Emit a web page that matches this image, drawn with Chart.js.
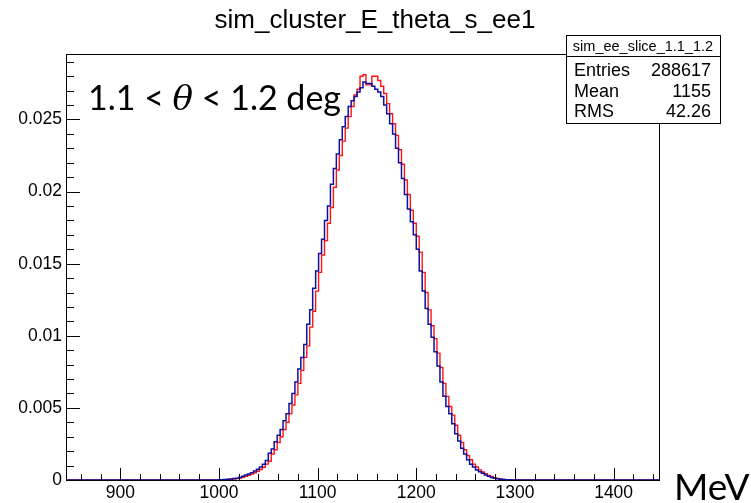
<!DOCTYPE html>
<html>
<head>
<meta charset="utf-8">
<script src="https://cdn.jsdelivr.net/npm/chart.js@4.4.0/dist/chart.umd.min.js"></script>
<style>
  html, body { margin: 0; padding: 0; background: #fff; }
  #wrap { width: 751px; height: 503px; }
</style>
</head>
<body>
<div id="wrap"><canvas id="histo" width="751" height="503"></canvas></div>
<script>
// histogram binning (MeV) and axis range
const binLow = 996;
const binWidth = 3;
const xMin = 845, xMax = 1446;
const yMax = 0.02954;

// bin contents, starting at binLow
const blueValues = [
  0, 0.00001, 0.00002, 0.00003, 0.00005, 0.00007, 0.0001, 0.00013, 0.00018, 0.00026,
  0.00034, 0.00042, 0.0005, 0.00062, 0.00074, 0.0009, 0.0011, 0.00135, 0.00185, 0.00215,
  0.00265, 0.0031, 0.0035, 0.0041, 0.0046, 0.0053, 0.006, 0.0068, 0.0077, 0.0085,
  0.0094, 0.0108, 0.0118, 0.0133, 0.0145, 0.0157, 0.0167, 0.018, 0.019, 0.0205,
  0.0216, 0.0226, 0.0236, 0.0245, 0.0252, 0.0259, 0.0263, 0.0266, 0.0269, 0.0272,
  0.0276, 0.0275, 0.0275, 0.0273, 0.0271, 0.0269, 0.0266, 0.026, 0.0254, 0.0247,
  0.024, 0.023, 0.022, 0.0209, 0.0198, 0.0188, 0.0179, 0.017, 0.016, 0.0145,
  0.0131, 0.0119, 0.0108, 0.0099, 0.0089, 0.0079, 0.0068, 0.0058, 0.0051, 0.0046,
  0.0039, 0.0032, 0.0027, 0.0022, 0.0018, 0.0014, 0.0011, 0.0009, 0.0007, 0.00058,
  0.00046, 0.00034, 0.00026, 0.00018, 0.00012, 0.00008, 0.00005, 0.00003, 0.00002, 0.00001,
  0
];
const redValues = [
  0, 0, 0.00001, 0.00002, 0.00003, 0.00005, 0.00007, 0.0001, 0.00013, 0.00018,
  0.00025, 0.00033, 0.00041, 0.0005, 0.00061, 0.00073, 0.00088, 0.0011, 0.0013, 0.0018,
  0.0021, 0.0026, 0.003, 0.0035, 0.004, 0.0046, 0.0052, 0.0059, 0.0067, 0.0076,
  0.0085, 0.0093, 0.0106, 0.0117, 0.0131, 0.0144, 0.0156, 0.0166, 0.0178, 0.0189,
  0.0203, 0.0215, 0.0225, 0.0235, 0.0244, 0.0252, 0.0259, 0.0267, 0.0271, 0.028,
  0.0281, 0.0274, 0.0274, 0.028, 0.028, 0.0277, 0.0273, 0.0268, 0.0261, 0.0254,
  0.0247, 0.0239, 0.0229, 0.0219, 0.0208, 0.0198, 0.0187, 0.0178, 0.0169, 0.0158,
  0.0144, 0.013, 0.0118, 0.0107, 0.0098, 0.0088, 0.0078, 0.0067, 0.0058, 0.0051,
  0.0045, 0.0038, 0.0031, 0.0026, 0.0021, 0.0017, 0.0014, 0.0011, 0.0009, 0.0007,
  0.00055, 0.00043, 0.00032, 0.00024, 0.00016, 0.0001, 0.00007, 0.00004, 0.00002, 0.00001,
  0
];

const xTickLabels = [900, 1000, 1100, 1200, 1300, 1400];
const yTickLabels = ['0', '0.005', '0.01', '0.015', '0.02', '0.025'];
const titleText = 'sim_cluster_E_theta_s_ee1';
const statsTitle = 'sim_ee_slice_1.1_1.2';
const statNames = ['Entries', 'Mean', 'RMS'];
const statValues = ['288617', '1155', '42.26'];

// turn bin contents into step points (value holds until next edge)
function toSteps(values) {
  const pts = [{ x: xMin, y: 0 }];
  values.forEach((v, i) => pts.push({ x: binLow + i * binWidth, y: v }));
  pts.push({ x: binLow + values.length * binWidth, y: 0 });
  pts.push({ x: xMax, y: 0 });
  return pts;
}

const helv = '"Liberation Sans", Arial, sans-serif';
const sans = 'Lato, "Open Sans", sans-serif';

// frame, inward ticks and all the ROOT-style text
const rootFrame = {
  id: 'rootFrame',
  afterDraw(chart) {
    const ctx = chart.ctx;
    const a = chart.chartArea;
    const xs = chart.scales.x, ys = chart.scales.y;
    ctx.save();

    // frame
    ctx.strokeStyle = '#000';
    ctx.lineWidth = 1;
    ctx.strokeRect(a.left + 0.5, a.top + 0.5, a.right - a.left, a.bottom - a.top);

    // y ticks
    for (let k = 1; k <= 29; k++) {
      const py = Math.round(ys.getPixelForValue(k * 0.001)) + 0.5;
      const len = k % 5 === 0 ? 14 : 8;
      ctx.beginPath();
      ctx.moveTo(a.left, py);
      ctx.lineTo(a.left + len, py);
      ctx.stroke();
    }
    // x ticks
    for (let v = 860; v < xMax; v += 20) {
      const px = Math.round(xs.getPixelForValue(v)) + 0.5;
      const len = v % 100 === 0 ? 12 : 6;
      ctx.beginPath();
      ctx.moveTo(px, a.bottom);
      ctx.lineTo(px, a.bottom - len);
      ctx.stroke();
    }

    // tick labels
    ctx.fillStyle = '#000';
    ctx.font = '17.5px ' + helv;
    ctx.textAlign = 'right';
    ctx.textBaseline = 'middle';
    yTickLabels.forEach(t => {
      ctx.fillText(t, a.left - 4, ys.getPixelForValue(parseFloat(t)));
    });
    ctx.textAlign = 'center';
    ctx.textBaseline = 'alphabetic';
    xTickLabels.forEach(t => {
      ctx.fillText(String(t), xs.getPixelForValue(t), 498);
    });

    // title
    ctx.font = '26px ' + helv;
    ctx.fillText(titleText, 375, 28);

    // stats box
    const bx = 566, by = 35, bw = 154, bh = 88, hh = 21;
    ctx.fillStyle = '#fff';
    ctx.fillRect(bx, by, bw, bh);
    ctx.strokeStyle = '#000';
    ctx.strokeRect(bx + 0.5, by + 0.5, bw, bh);
    ctx.beginPath();
    ctx.moveTo(bx, by + hh + 0.5);
    ctx.lineTo(bx + bw, by + hh + 0.5);
    ctx.stroke();
    ctx.fillStyle = '#000';
    ctx.font = '14.5px ' + helv;
    ctx.textAlign = 'center';
    ctx.fillText(statsTitle, bx + bw / 2, by + 16);
    ctx.font = '18px ' + helv;
    statNames.forEach((n, i) => {
      const ty = by + hh + 20 + i * 20.5;
      ctx.textAlign = 'left';
      ctx.fillText(n, bx + 8, ty);
      ctx.textAlign = 'right';
      ctx.fillText(statValues[i], bx + bw - 9, ty);
    });

    // slice label with italic theta
    ctx.textAlign = 'left';
    let tx = 88;
    const ty = 110;
    ctx.font = '34px ' + sans;
    ctx.fillText('1.1 < ', tx, ty);
    tx += ctx.measureText('1.1 < ').width;
    ctx.font = 'italic 34px "DejaVu Serif", serif';
    ctx.fillText('θ', tx, ty);
    tx += ctx.measureText('θ').width;
    ctx.font = '34px ' + sans;
    ctx.fillText(' < 1.2 deg', tx, ty);

    // axis unit
    ctx.font = '37px ' + sans;
    ctx.fillText('MeV', 674, 500);

    ctx.restore();
  }
};

new Chart(document.getElementById('histo'), {
  type: 'line',
  data: {
    datasets: [
      {
        label: 'blue',
        data: toSteps(blueValues),
        borderColor: '#10109e',
        borderWidth: 1.5,
        stepped: 'before',
        pointRadius: 0,
        fill: false
      },
      {
        label: 'red',
        data: toSteps(redValues),
        borderColor: '#ff1414',
        borderWidth: 1.4,
        stepped: 'before',
        pointRadius: 0,
        fill: false
      }
    ]
  },
  options: {
    responsive: false,
    animation: false,
    devicePixelRatio: 1,
    layout: { padding: { left: 66, right: 92, top: 54, bottom: 23 } },
    plugins: { legend: { display: false }, tooltip: { enabled: false } },
    scales: {
      x: { type: 'linear', min: xMin, max: xMax, display: false },
      y: { type: 'linear', min: 0, max: yMax, display: false }
    }
  },
  plugins: [rootFrame]
});
</script>
</body>
</html>
